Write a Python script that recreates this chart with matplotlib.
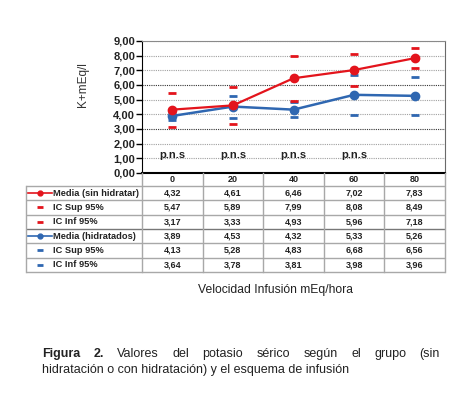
import matplotlib
matplotlib.use("Agg")
import matplotlib.pyplot as plt

plt.rcParams['font.family'] = ['Liberation Sans', 'DejaVu Sans']

categories = ["0", "20", "40", "60", "80"]
media_sin = [4.32, 4.61, 6.46, 7.02, 7.83]
sup_sin = [5.47, 5.89, 7.99, 8.08, 8.49]
inf_sin = [3.17, 3.33, 4.93, 5.96, 7.18]
media_hid = [3.89, 4.53, 4.32, 5.33, 5.26]
sup_hid = [4.13, 5.28, 4.83, 6.68, 6.56]
inf_hid = [3.64, 3.78, 3.81, 3.98, 3.96]
pns_labels = ["p.n.s", "p.n.s", "p.n.s", "p.n.s", ""]
row_labels = ["Media (sin hidratar)", "IC Sup 95%", "IC Inf 95%",
              "Media (hidratados)", "IC Sup 95%", "IC Inf 95%"]
yticks = [0, 1, 2, 3, 4, 5, 6, 7, 8, 9]

RED = "#e3141c"
BLUE = "#2f67b1"

W, H = 464, 393
fig = plt.figure(figsize=(W / 100, H / 100), dpi=100)

def fx(px):
    return px / W

def fy(py):
    return 1 - py / H

# Main chart
L, R, T, B = 142, 445, 41, 173
ax = fig.add_axes([fx(L), fy(B), fx(R) - fx(L), fy(T) - fy(B)])
xs = list(range(len(categories)))
ax.set_xlim(-0.5, len(categories) - 0.5)
ax.set_ylim(0, 9)
ax.set_yticks(yticks)
ax.set_yticklabels([f"{v:.2f}".replace(".", ",") for v in yticks],
                   fontsize=8, fontweight="bold", color="#222222")
ax.set_xticks([])
ax.tick_params(axis="y", length=4, width=1, pad=1, color="black")
for v in yticks[1:]:
    dark = v in (3, 6)
    ax.axhline(v, color="#333333" if dark else "#a0a0a0", lw=0.8,
               ls=(0, (1, 1)), zorder=0)
ax.spines["left"].set_color("black")
ax.spines["bottom"].set_color("black")
ax.spines["bottom"].set_linewidth(1.5)
ax.spines["top"].set_color("#8a8a8a")
ax.spines["right"].set_color("#6a6a6a")

ax.plot(xs, media_hid, color=BLUE, lw=1.8, marker="o", ms=6, zorder=3)
ax.plot(xs, sup_hid, ls="none", marker="_", ms=6, mew=2, color=BLUE, zorder=3)
ax.plot(xs, inf_hid, ls="none", marker="_", ms=6, mew=2, color=BLUE, zorder=3)
ax.plot(xs, media_sin, color=RED, lw=1.6, marker="o", ms=6, zorder=4)
ax.plot(xs, sup_sin, ls="none", marker="_", ms=6, mew=2, color=RED, zorder=4)
ax.plot(xs, inf_sin, ls="none", marker="_", ms=6, mew=2, color=RED, zorder=4)

for x, lab in zip(xs, pns_labels):
    if lab:
        ax.text(x, 1.25, lab, ha="center", va="center", fontsize=8,
                fontweight="bold", color="#222222")

fig.text(fx(83), fy(85), "K+mEq/l", rotation=90, ha="center", va="center",
         fontsize=8.5, color="#333333")

# Data table
TL, TT, TB = 26, 173, 272
unit = (R - L) / len(categories)
x_left = -0.5 - (L - TL) / unit
tax = fig.add_axes([fx(TL), fy(TB), fx(R) - fx(TL), fy(TT) - fy(TB)])
tax.set_xlim(x_left, len(categories) - 0.5)
nrows = len(row_labels)
hdr = 0.9
tax.set_ylim(nrows, -hdr)
tax.axis("off")

gc = "#a8a8a8"
for i in range(nrows + 1):
    c = "#777777" if i == 3 else gc
    tax.plot([x_left, len(categories) - 0.5], [i, i], color=c, lw=1,
             solid_capstyle="butt", clip_on=False)
tax.plot([x_left, x_left], [0, nrows], color=gc, lw=1, clip_on=False)
for k in range(len(categories) + 1):
    tax.plot([k - 0.5, k - 0.5], [-hdr, nrows], color=gc, lw=1, clip_on=False)

for k, c in enumerate(categories):
    tax.text(k, -hdr / 2, c, ha="center", va="center", fontsize=6.5,
             fontweight="bold", color="#222222")

rows = [media_sin, sup_sin, inf_sin, media_hid, sup_hid, inf_hid]
colors = [RED, RED, RED, BLUE, BLUE, BLUE]
def px2u(px):
    return x_left + (px - TL) / unit

for i, (lab, vals, col) in enumerate(zip(row_labels, rows, colors)):
    yc = i + 0.5
    if lab.startswith("Media"):
        tax.plot([px2u(28), px2u(52)], [yc, yc], color=col, lw=1.2, clip_on=False)
        tax.plot([px2u(40)], [yc], marker="o", ms=3.5, color=col, clip_on=False)
    else:
        tax.plot([px2u(40)], [yc], marker="_", ms=5, mew=2, color=col, clip_on=False)
    tax.text(px2u(53), yc, lab, ha="left", va="center", fontsize=6.7,
             fontweight="bold", color="#222222")
    for k, v in enumerate(vals):
        tax.text(k, yc, f"{v:.2f}".replace(".", ","), ha="center", va="center",
                 fontsize=6.5, fontweight="bold", color="#222222")

fig.text(fx(276), fy(290), "Velocidad Infusión mEq/hora", ha="center",
         va="center", fontsize=8.7, color="#222222")

# Caption
line1 = [("Figura", True), ("2.", True), ("Valores", False), ("del", False),
         ("potasio", False), ("sérico", False), ("según", False), ("el", False),
         ("grupo", False), ("(sin", False)]
x0, x1 = 42, 440
fig.canvas.draw()
renderer = fig.canvas.get_renderer()
words = []
for w, b in line1:
    t = fig.text(0, 0, w, fontsize=9, fontweight="bold" if b else "normal",
                 color="#222222")
    words.append(t)
widths = [t.get_window_extent(renderer).width for t in words]
gap = ((x1 - x0) - sum(widths)) / (len(words) - 1)
cx = x0
for t, wd in zip(words, widths):
    t.set_position((fx(cx), fy(354)))
    t.set_va("center")
    cx += wd + gap
fig.text(fx(42), fy(370), "hidratación o con hidratación) y el esquema de infusión",
         fontsize=9, va="center", color="#222222")

fig.savefig("out.png", dpi=100)
